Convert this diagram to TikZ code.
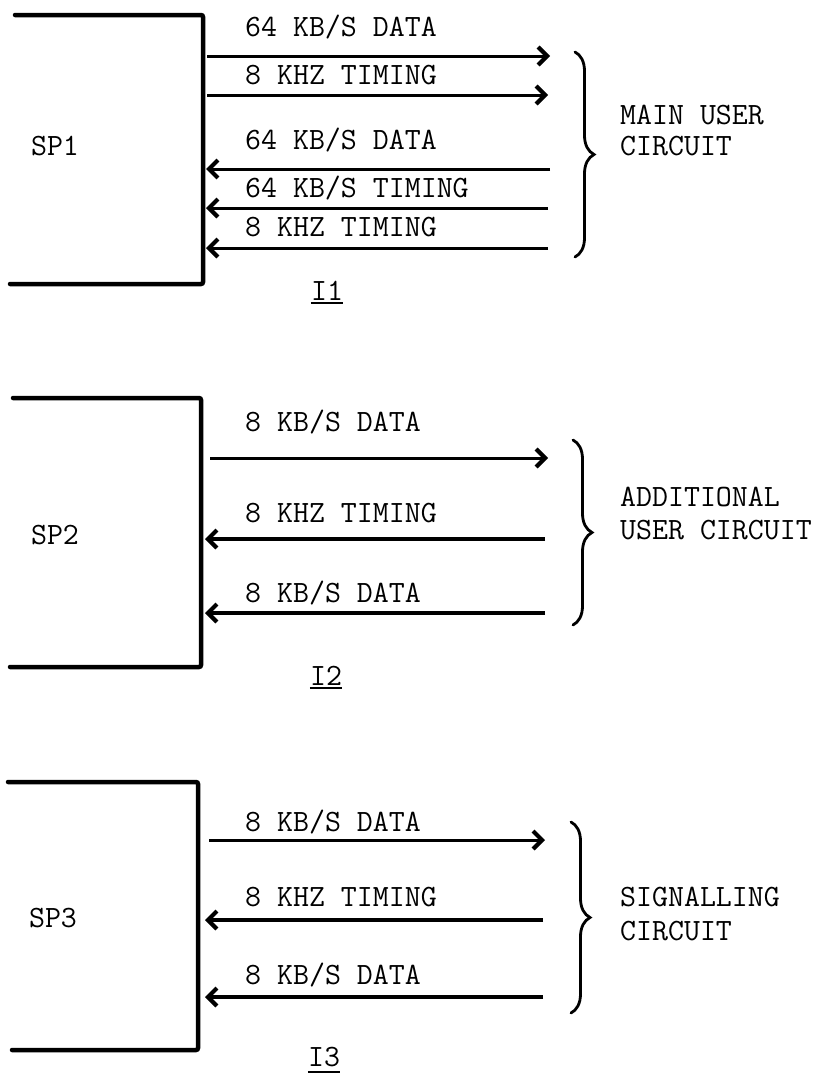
\documentclass[tikz,border=0pt]{standalone}
\usetikzlibrary{arrows.meta,decorations.pathreplacing}
\begin{document}
\begin{tikzpicture}[x=1pt,y=-1pt,
  txt/.style={font=\fontsize{31}{31}\fontseries{l}\selectfont\ttfamily, inner sep=0pt, text height=19pt, text depth=0pt},
  lbl/.style={txt, anchor=west},
  boxline/.style={line width=4.5pt, line cap=round, rounded corners=2pt},
  sig/.style={line width=3pt, -{Straight Barb[length=9pt,width=18pt,line width=4.2pt]}},
  br/.style={line width=2.8pt, line cap=round, decorate, decoration={brace, amplitude=19pt}},
  ul/.style={line width=2.6pt}
]
\useasboundingbox (0,0) rectangle (814,1076);

% ---------------- Section 1 ----------------
\draw[boxline] (15,15) -- (203,15) -- (203,284) -- (10,284);
\node[txt] (sp1) at (55,146) {SP1};
\node[lbl] (l11) at (245,27) {64 KB/S DATA};
\node[lbl] (l12) at (245,75) {8 KHZ TIMING};
\node[lbl] (l13) at (245,140) {64 KB/S DATA};
\node[lbl] (l14) at (245,188) {64 KB/S TIMING};
\node[lbl] (l15) at (245,227) {8 KHZ TIMING};
\coordinate (b11) at (207,56);  \coordinate (c11) at (550,56);
\coordinate (b12) at (207,95);  \coordinate (c12) at (548,95);
\coordinate (b13) at (206,169); \coordinate (c13) at (550,169);
\coordinate (b14) at (206,208); \coordinate (c14) at (548,208);
\coordinate (b15) at (206,248); \coordinate (c15) at (548,248);
\draw[sig] (b11) -- (c11);
\draw[sig] (b12) -- (c12);
\draw[sig] (c13) -- (b13);
\draw[sig] (c14) -- (b14);
\draw[sig] (c15) -- (b15);
\coordinate (r1t) at (575,52); \coordinate (r1b) at (575,257);
\draw[br] (r1t) -- (r1b);
\node[lbl] (m1a) at (620,115) {MAIN USER};
\node[lbl] (m1b) at (620,146) {CIRCUIT};
\node[txt] (i1) at (327,291) {I1};
\draw[ul] (i1.west |- 0,303) -- (i1.east |- 0,303);

% ---------------- Section 2 ----------------
\draw[boxline] (13,398) -- (201,398) -- (201,667) -- (10,667);
\node[txt] (sp2) at (55,535) {SP2};
\node[lbl] (l21) at (245,422) {8 KB/S DATA};
\node[lbl] (l22) at (245,513) {8 KHZ TIMING};
\node[lbl] (l23) at (245,593) {8 KB/S DATA};
\coordinate (b21) at (210,458); \coordinate (c21) at (548,458);
\coordinate (b22) at (205,539); \coordinate (c22) at (545,539);
\coordinate (b23) at (205,613); \coordinate (c23) at (545,613);
\draw[sig] (b21) -- (c21);
\draw[sig, line width=3.6pt] (c22) -- (b22);
\draw[sig, line width=3.6pt] (c23) -- (b23);
\coordinate (r2t) at (573,440); \coordinate (r2b) at (573,625);
\draw[br] (r2t) -- (r2b);
\node[lbl] (m2a) at (620,497) {ADDITIONAL};
\node[lbl] (m2b) at (620,530) {USER CIRCUIT};
\node[txt] (i2) at (326,676) {I2};
\draw[ul] (i2.west |- 0,688) -- (i2.east |- 0,688);

% ---------------- Section 3 ----------------
\draw[boxline] (8,782) -- (198,782) -- (198,1050) -- (12,1050);
\node[txt] (sp3) at (53,918) {SP3};
\node[lbl] (l31) at (245,822) {8 KB/S DATA};
\node[lbl] (l32) at (245,897) {8 KHZ TIMING};
\node[lbl] (l33) at (245,975) {8 KB/S DATA};
\coordinate (b31) at (209,840); \coordinate (c31) at (545,840);
\coordinate (b32) at (205,920); \coordinate (c32) at (543,920);
\coordinate (b33) at (205,997); \coordinate (c33) at (543,997);
\draw[sig] (b31) -- (c31);
\draw[sig, line width=3.6pt] (c32) -- (b32);
\draw[sig, line width=3.6pt] (c33) -- (b33);
\coordinate (r3t) at (571,822); \coordinate (r3b) at (571,1013);
\draw[br] (r3t) -- (r3b);
\node[lbl] (m3a) at (620,897) {SIGNALLING};
\node[lbl] (m3b) at (620,931) {CIRCUIT};
\node[txt] (i3) at (324,1057) {I3};
\draw[ul] (i3.west |- 0,1072) -- (i3.east |- 0,1072);
\end{tikzpicture}
\end{document}
